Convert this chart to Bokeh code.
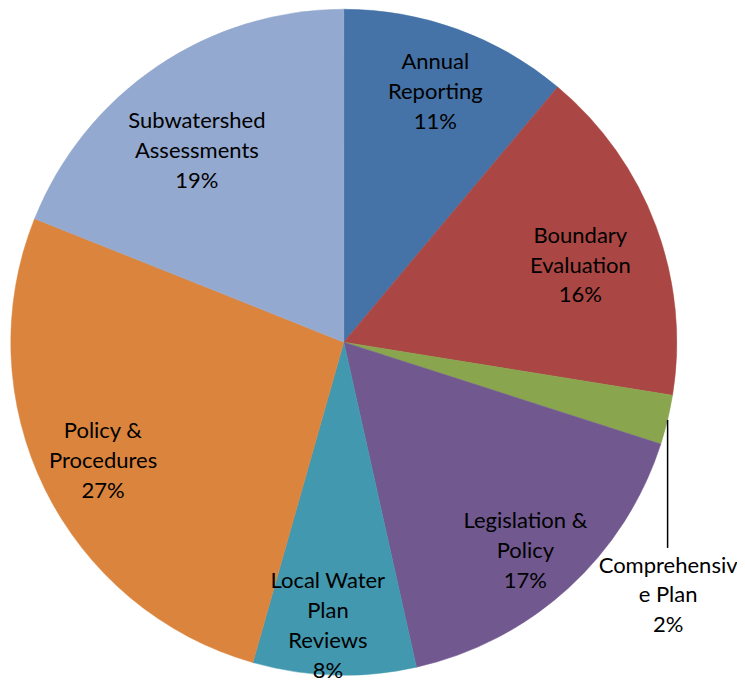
import numpy as np
from bokeh.plotting import figure
from bokeh.models import ColumnDataSource
from bokeh.embed import file_html
from bokeh.resources import INLINE
from bokeh.core.properties import value

# ---- data ----
categories = ["Annual\nReporting", "Boundary\nEvaluation", "Comprehensiv\ne Plan",
              "Legislation &\nPolicy", "Local Water\nPlan\nReviews", "Policy &\nProcedures",
              "Subwatershed\nAssessments"]
shares = [11.1, 16.45, 2.4, 16.55, 7.9, 26.65, 18.95]
colors = ["#4572A7", "#AA4643", "#89A54E", "#71588F", "#4198AF", "#DB843D", "#93A9CF"]

# ---- layout ----
W, H = 737, 684
CX, CY, R = 343.3, H - 341.7, 333
label_frac = [0.804, 0.748, None, 0.828, 0.849, 0.804, 0.728]
label_nudge_deg = [0.0, 2.2, 0.0, 1.2, 1.6, 0.2, -3.2]
FONT = "Lato"
FSIZE = "22px"
LH = 1.10

vals = np.array(shares, dtype=float)
frac = vals / vals.sum()
cum_end = np.cumsum(frac)
cum_start = cum_end - frac
start = np.pi / 2 - 2 * np.pi * cum_start
end = np.pi / 2 - 2 * np.pi * cum_end
mid = (start + end) / 2

labels = [f"{c}\n{round(v)}%" for c, v in zip(categories, shares)]

p = figure(width=W, height=H, x_range=(0, W), y_range=(0, H),
           output_backend="svg", toolbar_location=None, min_border=0)
p.axis.visible = False
p.grid.visible = False
p.outline_line_color = None
p.background_fill_color = "white"

src = ColumnDataSource(dict(start=start, end=end, color=colors))
p.wedge(x=CX, y=CY, radius=R, start_angle="start", end_angle="end",
        direction="clock", fill_color="color", line_color="color", line_width=0.5,
        source=src)

lx, ly, lt = [], [], []
for i, (lab, f) in enumerate(zip(labels, label_frac)):
    if f is None:
        continue
    a = mid[i] - np.deg2rad(label_nudge_deg[i])
    lx.append(CX + f * R * np.cos(a))
    ly.append(CY + f * R * np.sin(a))
    lt.append(lab)

p.text(x=lx, y=ly, text=lt, text_align="center", text_baseline="middle",
       text_font=value(FONT), text_font_size=FSIZE, text_color="black",
       text_line_height=LH)

# outside label with leader line (Comprehensive Plan)
ci = 2
ex = CX + R * np.cos(mid[ci])
ey = CY + R * np.sin(mid[ci])
p.line(x=[ex, ex], y=[ey, ey - 128], line_color="black", line_width=1.5)
p.text(x=[ex + 0.5], y=[ey - 174], text=[labels[ci]], text_align="center",
       text_baseline="middle", text_font=value(FONT), text_font_size=FSIZE,
       text_color="black", text_line_height=LH)

open("out.html", "w").write(file_html(p, INLINE))
